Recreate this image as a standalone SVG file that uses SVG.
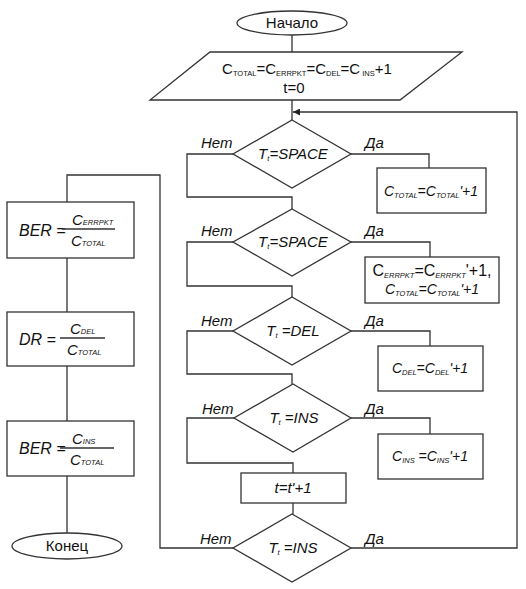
<svg xmlns="http://www.w3.org/2000/svg" width="526" height="589" viewBox="0 0 526 589">
<defs>
<style>
.s{fill:#fff;stroke:#333;stroke-width:1.3}
.c{fill:none;stroke:#333;stroke-width:1.3}
text{font-family:"Liberation Sans",Arial,sans-serif;fill:#111}
.i{font-style:italic}
.lbl{font-size:15px;font-style:italic}
.sub{font-size:7.5px}
</style>
<marker id="ah" viewBox="0 0 10 10" refX="10" refY="5" markerWidth="9" markerHeight="7" orient="auto" markerUnits="userSpaceOnUse">
<path d="M0,0 L10,5 L0,10 z" fill="#222"/>
</marker>
</defs>
<rect width="526" height="589" fill="#fff"/>
<g id="connectors">
<path class="c" d="M292,35 V52 M292,100 V120"/>
<path class="c" d="M233,154 H187 V197 H292 V209"/>
<path class="c" d="M351,154 H429 V168"/>
<path class="c" d="M233,242 H187 V286 H292 V297"/>
<path class="c" d="M351,242 H430 V257"/>
<path class="c" d="M233,331 H187 V374 H292 V384"/>
<path class="c" d="M351,331 H430 V346"/>
<path class="c" d="M234,418 H187 V463 H293 V473"/>
<path class="c" d="M351,418 H430 V434"/>
<path class="c" d="M293,503 V514"/>
<path class="c" d="M351,548 H517 V112 H293" marker-end="url(#ah)"/>
<path class="c" d="M233,548 H160 V175 H67 V202"/>
<path class="c" d="M67,258 V312 M67,366 V421 M67,476 V533"/>
</g>
<g id="start">
<ellipse class="s" cx="292" cy="23" rx="55" ry="12"/>
<text x="292" y="28" font-size="15" text-anchor="middle">Начало</text>
</g>
<g id="init">
<polygon class="s" points="210,52 462,52 400,100 150,100"/>
<text x="307" y="74" font-size="15" text-anchor="middle">C<tspan class="sub" dy="1.5">TOTAL</tspan><tspan dy="-1.5">=C</tspan><tspan class="sub" dy="1.5">ERRPKT</tspan><tspan dy="-1.5">=C</tspan><tspan class="sub" dy="1.5">DEL</tspan><tspan dy="-1.5">=C</tspan><tspan class="sub" dy="1.5"> INS</tspan><tspan dy="-1.5">+1</tspan></text>
<text x="294" y="93" font-size="15" text-anchor="middle">t=0</text>
</g>
<g id="d1">
<polygon class="s" points="292,120 351,154 292,188 233,154"/>
<text x="293" y="159" class="lbl" text-anchor="middle">T<tspan class="sub" dy="2">t</tspan><tspan dy="-2">=SPACE</tspan></text>
<text x="201" y="148" class="lbl">Нет</text>
<text x="365" y="148" class="lbl">Да</text>
</g>
<g id="b1">
<rect class="s" x="377" y="168" width="109" height="45"/>
<text x="431" y="196" font-size="14" class="i" text-anchor="middle">C<tspan class="sub" dy="2">TOTAL</tspan><tspan dy="-2">=C</tspan><tspan class="sub" dy="2">TOTAL</tspan><tspan dy="-2">'+1</tspan></text>
</g>
<g id="d2">
<polygon class="s" points="292,209 351,242 292,276 233,242"/>
<text x="293" y="247" class="lbl" text-anchor="middle">T<tspan class="sub" dy="2">t</tspan><tspan dy="-2">=SPACE</tspan></text>
<text x="201" y="236" class="lbl">Нет</text>
<text x="365" y="236" class="lbl">Да</text>
</g>
<g id="b2">
<rect class="s" x="365" y="257" width="134" height="46"/>
<text x="432" y="276" font-size="16" text-anchor="middle">C<tspan class="sub i" dy="2">ERRPKT</tspan><tspan dy="-2">=C</tspan><tspan class="sub i" dy="2">ERRPKT</tspan><tspan dy="-2">'+1,</tspan></text>
<text x="432" y="294" font-size="14" class="i" text-anchor="middle">C<tspan class="sub" dy="2">TOTAL</tspan><tspan dy="-2">=C</tspan><tspan class="sub" dy="2">TOTAL</tspan><tspan dy="-2">'+1</tspan></text>
</g>
<g id="d3">
<polygon class="s" points="292,297 351,331 292,365 233,331"/>
<text x="293" y="336" class="lbl" text-anchor="middle">T<tspan class="sub" dy="2">t</tspan><tspan dy="-2"> =DEL</tspan></text>
<text x="201" y="326" class="lbl">Нет</text>
<text x="365" y="326" class="lbl">Да</text>
</g>
<g id="b3">
<rect class="s" x="378" y="346" width="105" height="45"/>
<text x="430" y="373" font-size="14" class="i" text-anchor="middle">C<tspan class="sub" dy="2">DEL</tspan><tspan dy="-2">=C</tspan><tspan class="sub" dy="2">DEL</tspan><tspan dy="-2">'+1</tspan></text>
</g>
<g id="d4">
<polygon class="s" points="293,384 351,418 293,452 234,418"/>
<text x="294" y="423" class="lbl" text-anchor="middle">T<tspan class="sub" dy="2">t</tspan><tspan dy="-2"> =INS</tspan></text>
<text x="202" y="414" class="lbl">Нет</text>
<text x="365" y="414" class="lbl">Да</text>
</g>
<g id="b4">
<rect class="s" x="378" y="434" width="105" height="45"/>
<text x="430" y="461" font-size="14" class="i" text-anchor="middle">C<tspan class="sub" dy="2">INS</tspan><tspan dy="-2"> =C</tspan><tspan class="sub" dy="2">INS</tspan><tspan dy="-2">'+1</tspan></text>
</g>
<g id="bt">
<rect class="s" x="241" y="473" width="105" height="30"/>
<text x="293" y="493" font-size="15" class="i" text-anchor="middle">t=t'+1</text>
</g>
<g id="d5">
<polygon class="s" points="292,514 351,548 292,582 233,548"/>
<text x="293" y="553" class="lbl" text-anchor="middle">T<tspan class="sub" dy="2">t</tspan><tspan dy="-2"> =INS</tspan></text>
<text x="200" y="544" class="lbl">Нет</text>
<text x="365" y="544" class="lbl">Да</text>
</g>
<g id="ber1">
<rect class="s" x="7" y="202" width="127" height="56"/>
<text x="19" y="236" font-size="16" class="i">BER =</text>
<path class="c" d="M62,229 H115"/>
<text x="72" y="225" font-size="15" class="i">C<tspan class="sub">ERRPKT</tspan></text>
<text x="71" y="246" font-size="15" class="i">C<tspan class="sub">TOTAL</tspan></text>
</g>
<g id="dr">
<rect class="s" x="7" y="312" width="127" height="54"/>
<text x="19" y="345" font-size="16" class="i">DR =</text>
<path class="c" d="M60,338 H105"/>
<text x="70" y="334" font-size="15" class="i">C<tspan class="sub">DEL</tspan></text>
<text x="67" y="355" font-size="15" class="i">C<tspan class="sub">TOTAL</tspan></text>
</g>
<g id="ber2">
<rect class="s" x="7" y="421" width="127" height="55"/>
<text x="19" y="454" font-size="16" class="i">BER =</text>
<path class="c" d="M60,448 H114"/>
<text x="72" y="444" font-size="15" class="i">C<tspan class="sub">INS</tspan></text>
<text x="70" y="465" font-size="15" class="i">C<tspan class="sub">TOTAL</tspan></text>
</g>
<g id="end">
<ellipse class="s" cx="67" cy="546" rx="55" ry="13"/>
<text x="67" y="551" font-size="15" text-anchor="middle">Конец</text>
</g>
</svg>
